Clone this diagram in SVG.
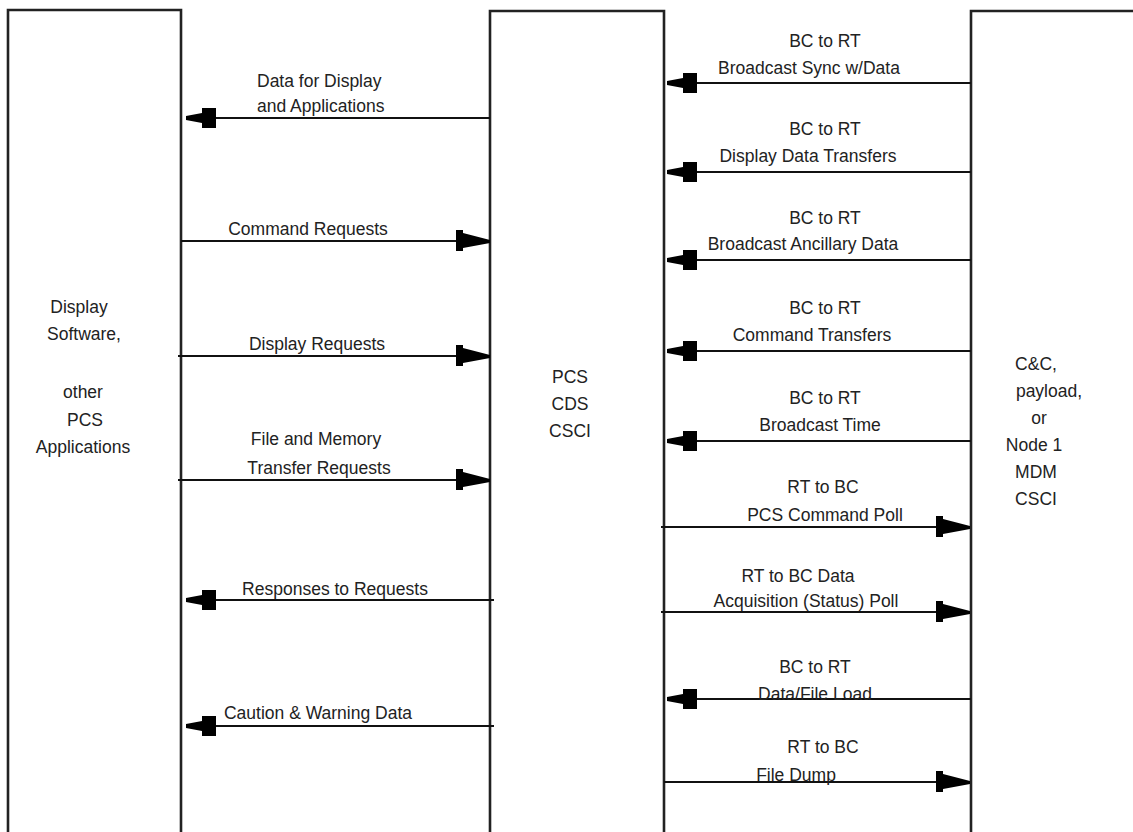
<svg xmlns="http://www.w3.org/2000/svg" width="1133" height="832" viewBox="0 0 1133 832">
  <style>
    .box { fill: #ffffff; stroke: #222222; stroke-width: 2.6; }
    .lbl { font-family: "Liberation Sans", Arial, sans-serif; font-size: 17.5px; fill: #222222; text-anchor: middle; }
    .lft { text-anchor: start; }
    .wire { stroke: #111111; stroke-width: 2; fill: none; }
    .head { fill: #000000; }
  </style>
  <defs>
    <!-- blocky arrowheads, tip at the origin -->
    <path id="headL" class="head" d="M0,-2 L16,-5 L16,-10 L30,-10 L30,10 L16,10 L16,5 L0,2 Z"/>
    <path id="headR" class="head" d="M0,-1 L-27,-8 L-27,-11 L-34,-11 L-34,10 L-27,10 L-27,7 L0,2 Z"/>
  </defs>

  <rect width="1133" height="832" fill="#ffffff"/>

  <g id="node-display">
    <path class="box" d="M8,840 V10 H181 V840"/>
    <text class="lbl" x="79" y="313">Display</text>
    <text class="lbl" x="84" y="340">Software,</text>
    <text class="lbl" x="83" y="398">other</text>
    <text class="lbl" x="85" y="426">PCS</text>
    <text class="lbl" x="83" y="453">Applications</text>
  </g>

  <g id="node-cds">
    <path class="box" d="M490,840 V11 H664 V840"/>
    <text class="lbl" x="570" y="383">PCS</text>
    <text class="lbl" x="570" y="410">CDS</text>
    <text class="lbl" x="570" y="437">CSCI</text>
  </g>

  <g id="node-mdm">
    <path class="box" d="M971,840 V11 H1140"/>
    <text class="lbl" x="1036" y="370">C&amp;C,</text>
    <text class="lbl" x="1049" y="397">payload,</text>
    <text class="lbl" x="1039" y="424">or</text>
    <text class="lbl" x="1034" y="451">Node 1</text>
    <text class="lbl" x="1036" y="478">MDM</text>
    <text class="lbl" x="1036" y="505">CSCI</text>
  </g>

  <g id="connectors">
    <!-- CDS <-> display software -->
    <line class="wire" x1="490" y1="118" x2="190" y2="118"/>
    <use href="#headL" x="186" y="118"/>
    <text class="lbl lft" x="257" y="87">Data for Display</text>
    <text class="lbl lft" x="257" y="112">and Applications</text>

    <line class="wire" x1="181" y1="241" x2="486" y2="241"/>
    <use href="#headR" x="490" y="241"/>
    <text class="lbl" x="308" y="235">Command Requests</text>

    <line class="wire" x1="178" y1="356" x2="486" y2="356"/>
    <use href="#headR" x="490" y="356"/>
    <text class="lbl" x="317" y="350">Display Requests</text>

    <line class="wire" x1="178" y1="480" x2="486" y2="480"/>
    <use href="#headR" x="490" y="480"/>
    <text class="lbl" x="316" y="445">File and Memory</text>
    <text class="lbl" x="319" y="474">Transfer Requests</text>

    <line class="wire" x1="494" y1="600" x2="190" y2="600"/>
    <use href="#headL" x="186" y="600"/>
    <text class="lbl" x="335" y="595">Responses to Requests</text>

    <line class="wire" x1="494" y1="726" x2="190" y2="726"/>
    <use href="#headL" x="186" y="726"/>
    <text class="lbl" x="318" y="719">Caution &amp; Warning Data</text>

    <!-- MDM <-> CDS bus transfers -->
    <line class="wire" x1="971" y1="83" x2="671" y2="83"/>
    <use href="#headL" x="667" y="83"/>
    <text class="lbl" x="825" y="47">BC to RT</text>
    <text class="lbl" x="809" y="74">Broadcast Sync w/Data</text>

    <line class="wire" x1="971" y1="172" x2="671" y2="172"/>
    <use href="#headL" x="667" y="172"/>
    <text class="lbl" x="825" y="135">BC to RT</text>
    <text class="lbl" x="808" y="162">Display Data Transfers</text>

    <line class="wire" x1="971" y1="260" x2="671" y2="260"/>
    <use href="#headL" x="667" y="260"/>
    <text class="lbl" x="825" y="224">BC to RT</text>
    <text class="lbl" x="803" y="250">Broadcast Ancillary Data</text>

    <line class="wire" x1="971" y1="351" x2="671" y2="351"/>
    <use href="#headL" x="667" y="351"/>
    <text class="lbl" x="825" y="314">BC to RT</text>
    <text class="lbl" x="812" y="341">Command Transfers</text>

    <line class="wire" x1="971" y1="441" x2="671" y2="441"/>
    <use href="#headL" x="667" y="441"/>
    <text class="lbl" x="825" y="404">BC to RT</text>
    <text class="lbl" x="820" y="431">Broadcast Time</text>

    <line class="wire" x1="661" y1="527" x2="966" y2="527"/>
    <use href="#headR" x="970" y="527"/>
    <text class="lbl" x="823" y="493">RT to BC</text>
    <text class="lbl" x="825" y="521">PCS Command Poll</text>

    <line class="wire" x1="661" y1="612" x2="966" y2="612"/>
    <use href="#headR" x="970" y="612"/>
    <text class="lbl" x="798" y="582">RT to BC Data</text>
    <text class="lbl" x="806" y="607">Acquisition (Status) Poll</text>

    <line class="wire" x1="971" y1="699" x2="671" y2="699"/>
    <use href="#headL" x="667" y="699"/>
    <text class="lbl" x="815" y="673">BC to RT</text>
    <text class="lbl" x="815" y="700">Data/File Load</text>

    <line class="wire" x1="664" y1="782" x2="966" y2="782"/>
    <use href="#headR" x="970" y="782"/>
    <text class="lbl" x="823" y="753">RT to BC</text>
    <text class="lbl" x="796" y="781">File Dump</text>
  </g>
</svg>
